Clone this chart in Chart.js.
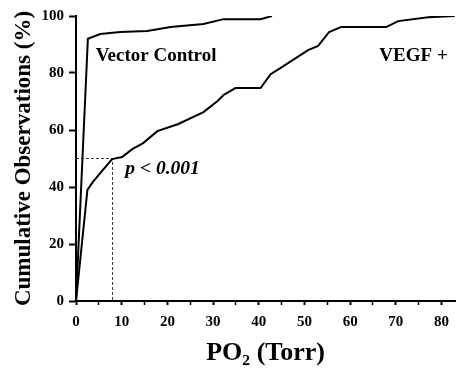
<!DOCTYPE html>
<html>
<head>
<meta charset="utf-8">
<script src="https://cdn.jsdelivr.net/npm/chart.js@4.4.0/dist/chart.umd.min.js"></script>
<style>
  html, body { margin: 0; padding: 0; background: #fff; }
  #wrap { width: 457px; height: 369px; }
</style>
</head>
<body>
<div id="wrap"><canvas id="chart"></canvas></div>
<script>
// values (x = PO2 Torr, y = cumulative %)
const vectorX = [0, 2.6, 5.3, 9.7, 15.6, 20.7, 27.9, 32.3, 40.4, 42.9];
const vectorY = [0, 92, 93.7, 94.4, 94.7, 96.1, 97.2, 98.9, 98.9, 100];

const vegfX = [0, 2.5, 3.7, 5.9, 7.9, 10.1, 12.3, 14.7, 17.8, 22.4, 27.9, 31, 32.3, 34.9, 40.4, 42.6, 44.8, 50.8, 53, 55.4, 58, 67.9, 70.5, 77.1, 82.9];
const vegfY = [0, 39, 41.8, 46, 49.8, 50.5, 53.3, 55.4, 59.6, 62.1, 66.3, 70.2, 72.3, 74.7, 74.7, 79.6, 81.8, 88, 89.5, 94.4, 96.1, 96.1, 98.2, 99.6, 100];

const medianX = 8;
const medianY = 50;

const xTicks = [0, 5, 10, 15, 20, 25, 30, 35, 40, 45, 50, 55, 60, 65, 70, 75, 80];
const yTicks = [0, 20, 40, 60, 80, 100];

const pts = (xs, ys) => xs.map((x, i) => ({ x: x, y: ys[i] }));

const serif = "'Liberation Serif', 'DejaVu Serif', serif";

const labelsPlugin = {
  id: 'labels',
  afterDatasetsDraw(chart) {
    const { ctx, scales: { x, y } } = chart;
    ctx.save();
    ctx.fillStyle = '#000';
    ctx.textBaseline = 'middle';
    ctx.font = 'bold 19px ' + serif;
    ctx.textAlign = 'left';
    ctx.fillText('Vector Control', x.getPixelForValue(4.3), y.getPixelForValue(86));
    ctx.fillText('VEGF +', x.getPixelForValue(66.4), y.getPixelForValue(86));
    ctx.font = 'italic bold 19.5px ' + serif;
    ctx.fillText('p < 0.001', x.getPixelForValue(10.8), y.getPixelForValue(46.5));
    ctx.restore();
  }
};

new Chart(document.getElementById('chart'), {
  type: 'scatter',
  data: {
    datasets: [
      {
        label: 'Vector Control',
        data: pts(vectorX, vectorY),
        showLine: true,
        borderColor: '#000',
        borderWidth: 2,
        pointRadius: 0,
        tension: 0
      },
      {
        label: 'VEGF +',
        data: pts(vegfX, vegfY),
        showLine: true,
        borderColor: '#000',
        borderWidth: 2,
        pointRadius: 0,
        tension: 0
      },
      {
        label: 'median',
        data: [{ x: 0, y: medianY }, { x: medianX, y: medianY }, { x: medianX, y: 0 }],
        showLine: true,
        borderColor: '#333',
        borderWidth: 1,
        borderDash: [3, 2],
        pointRadius: 0,
        tension: 0
      }
    ]
  },
  options: {
    responsive: true,
    maintainAspectRatio: false,
    animation: false,
    layout: { padding: { top: 16, right: 0, left: 0, bottom: 0 } },
    plugins: { legend: { display: false }, tooltip: { enabled: false } },
    scales: {
      x: {
        type: 'linear',
        min: 0,
        max: 83,
        afterBuildTicks: s => { s.ticks = xTicks.map(v => ({ value: v })); },
        afterFit: s => { s.height = 68; },
        border: { display: true, color: '#000', width: 2 },
        grid: {
          drawOnChartArea: false,
          drawTicks: true,
          tickLength: 4,
          tickColor: '#000',
          tickWidth: c => (c.tick && c.tick.value % 10 === 0 ? 2 : 1.5)
        },
        ticks: {
          color: '#000',
          padding: 8,
          maxRotation: 0,
          autoSkip: false,
          font: { family: serif, size: 15, weight: 'bold' },
          callback: v => (v % 10 === 0 ? String(v) : '')
        },
        title: {
          display: true,
          text: 'PO₂ (Torr)',
          color: '#000',
          font: { family: serif, size: 26, weight: 'bold' },
          padding: { top: 0, bottom: 0 }
        }
      },
      y: {
        type: 'linear',
        min: 0,
        max: 100,
        afterBuildTicks: s => { s.ticks = yTicks.map(v => ({ value: v })); },
        afterFit: s => { s.width = 76; },
        border: { display: true, color: '#000', width: 2 },
        grid: {
          drawOnChartArea: false,
          drawTicks: true,
          tickLength: 7,
          tickColor: '#000',
          tickWidth: 2
        },
        ticks: {
          color: '#000',
          padding: 5,
          font: { family: serif, size: 15, weight: 'bold' }
        },
        title: {
          display: true,
          text: 'Cumulative Observations (%)',
          color: '#000',
          font: { family: serif, size: 23, weight: 'bold' },
          padding: { top: 10, bottom: 0 }
        }
      }
    }
  },
  plugins: [labelsPlugin]
});
</script>
</body>
</html>
